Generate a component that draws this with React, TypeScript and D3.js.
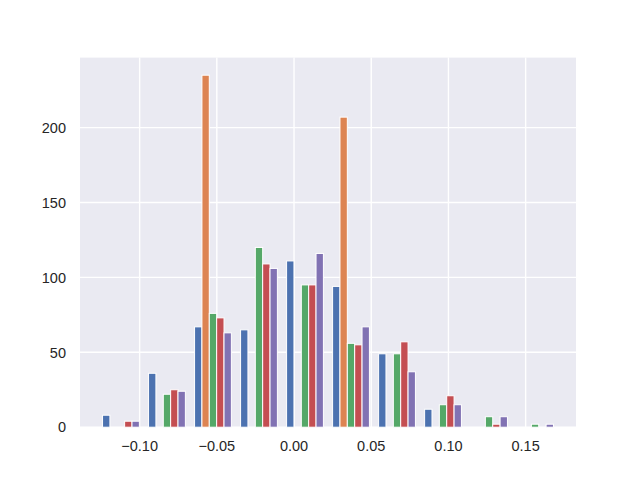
import React from "react";
import * as d3 from "d3";

const binEdges = [-0.127, -0.0972, -0.0674, -0.0376, -0.0078, 0.022, 0.0518, 0.0816, 0.1114, 0.1412, 0.171];
const seriesBlue = [8, 36, 67, 65, 111, 94, 49, 12, 0, 0];
const seriesOrange = [0, 0, 235, 0, 0, 207, 0, 0, 0, 0];
const seriesGreen = [0, 22, 76, 120, 95, 56, 49, 15, 7, 2];
const seriesRed = [4, 25, 73, 109, 95, 55, 57, 21, 2, 0];
const seriesPurple = [4, 24, 63, 106, 116, 67, 37, 15, 7, 2];
const seriesColors = ["#4C72B0", "#DD8452", "#55A868", "#C44E52", "#8172B3"];
const xTicks = [-0.1, -0.05, 0.0, 0.05, 0.1, 0.15];
const yTicks = [0, 50, 100, 150, 200];

const W = 640, H = 480;
const left = 80, right = 576, top = 57.6, bottom = 427.2;

export default function App() {
  const series = [seriesBlue, seriesOrange, seriesGreen, seriesRed, seriesPurple];
  const n = series.length;
  const bw = binEdges[1] - binEdges[0];
  const lo = binEdges[0] + 0.1 * bw;
  const hi = binEdges[binEdges.length - 1] - 0.1 * bw;
  const m = (hi - lo) * 0.05;
  const x = d3.scaleLinear().domain([lo - m, hi + m]).range([left, right]);
  const maxV = d3.max(series.flat()) as number;
  const y = d3.scaleLinear().domain([0, maxV * 1.05]).range([bottom, top]);
  const fmt = (v: number) => d3.format(".2f")(v).replace("-", "\u2212");
  const font = "'Liberation Sans', Arial, sans-serif";
  const dr = (0.8 * bw) / n;

  return (
    <svg width={W} height={H} style={{ position: "absolute", left: 0, top: 0 }}>
      <rect x={0} y={0} width={W} height={H} fill="#ffffff" />
      <rect x={left} y={top} width={right - left} height={bottom - top} fill="#EAEAF2" />
      {xTicks.map((t) => (
        <line key={"gx" + t} x1={x(t)} x2={x(t)} y1={top} y2={bottom} stroke="#fff" strokeWidth={1.4} />
      ))}
      {yTicks.map((t) => (
        <line key={"gy" + t} x1={left} x2={right} y1={y(t)} y2={y(t)} stroke="#fff" strokeWidth={1.4} />
      ))}
      {series.map((s, k) =>
        s.map((v, i) =>
          v > 0 ? (
            <rect
              key={k + "-" + i}
              x={x(binEdges[i] + 0.1 * bw + k * dr)}
              y={y(v)}
              width={x(binEdges[i] + 0.1 * bw + (k + 1) * dr) - x(binEdges[i] + 0.1 * bw + k * dr)}
              height={y(0) - y(v)}
              fill={seriesColors[k]}
              stroke="#fff"
              strokeWidth={1}
            />
          ) : null
        )
      )}
      {xTicks.map((t) => (
        <text key={"tx" + t} x={x(t)} y={450.5} textAnchor="middle" fontFamily={font} fontSize={14.5} fill="#262626">
          {fmt(t)}
        </text>
      ))}
      {yTicks.map((t) => (
        <text key={"ty" + t} x={66} y={y(t)} dy="0.36em" textAnchor="end" fontFamily={font} fontSize={14.5} fill="#262626">
          {t}
        </text>
      ))}
    </svg>
  );
}
